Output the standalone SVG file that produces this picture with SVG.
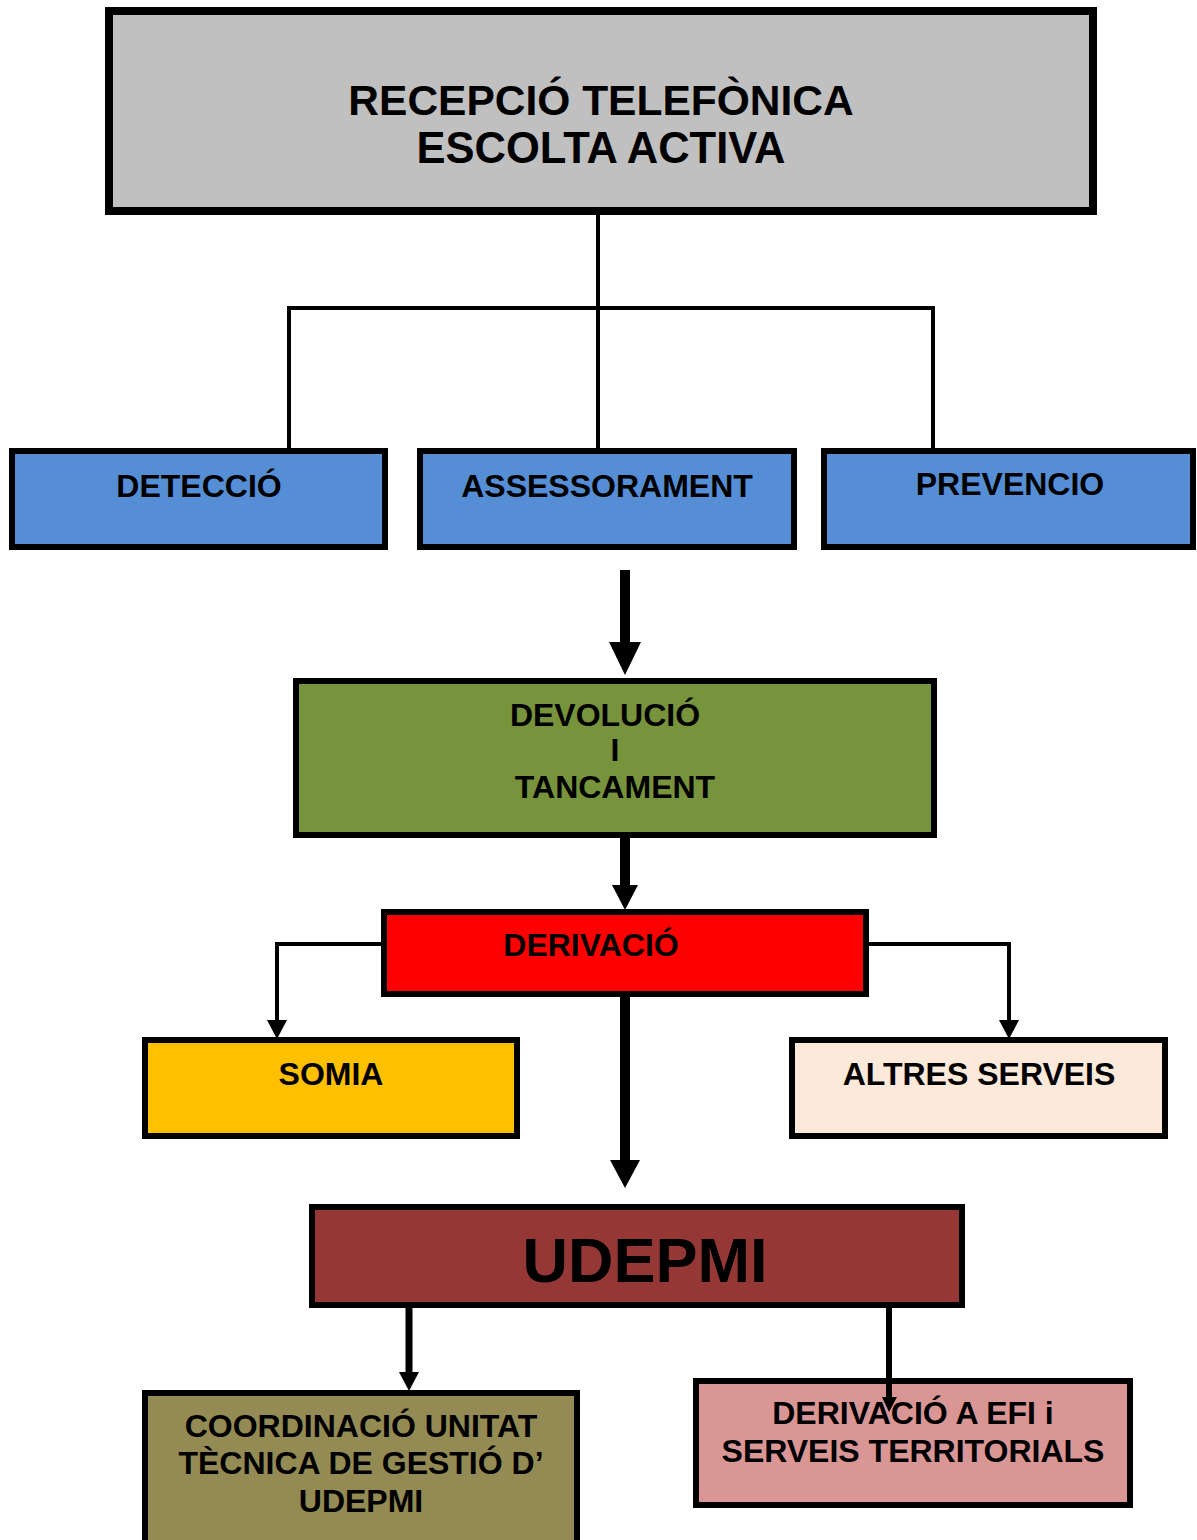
<svg xmlns="http://www.w3.org/2000/svg" width="1197" height="1540" viewBox="0 0 1197 1540">
<style>
.box{stroke:#000;stroke-width:6}
.t{font-family:"Liberation Sans",Arial,sans-serif;font-weight:bold;font-size:32px;text-anchor:middle;fill:#000}
.ln{fill:none;stroke:#000;stroke-width:4}
.thick{fill:none;stroke:#000;stroke-width:10}
.hd{fill:#000}
</style>
<rect width="1197" height="1540" fill="#fff"/>
<g id="recepcio">
<rect x="109" y="11" width="984" height="200" fill="#C0C0C0" stroke="#000" stroke-width="8"/>
<text class="t" x="601" y="115" style="font-size:42.5px">RECEPCIÓ TELEFÒNICA</text>
<text class="t" x="601" y="163" style="font-size:43.5px">ESCOLTA ACTIVA</text>
</g>
<g id="deteccio">
<rect class="box" x="12" y="451" width="373" height="96" fill="#558ED5"/>
<text class="t" x="199" y="497">DETECCIÓ</text>
</g>
<g id="assessorament">
<rect class="box" x="420" y="451" width="374" height="96" fill="#558ED5"/>
<text class="t" x="607" y="497">ASSESSORAMENT</text>
</g>
<g id="prevencio">
<rect class="box" x="824" y="451" width="369" height="96" fill="#558ED5"/>
<text class="t" x="1010" y="495">PREVENCIO</text>
</g>
<g id="devolucio">
<rect class="box" x="296" y="681" width="638" height="154" fill="#77933C"/>
<text class="t" x="605" y="726">DEVOLUCIÓ</text>
<text class="t" x="615" y="761">I</text>
<text class="t" x="615" y="798">TANCAMENT</text>
</g>
<g id="derivacio">
<rect class="box" x="384" y="912" width="482" height="82" fill="#FF0000"/>
<text class="t" x="591" y="956">DERIVACIÓ</text>
</g>
<g id="somia">
<rect class="box" x="145" y="1040" width="372" height="96" fill="#FFC000"/>
<text class="t" x="331" y="1085">SOMIA</text>
</g>
<g id="altres">
<rect class="box" x="792" y="1040" width="373" height="96" fill="#FDE9D9"/>
<text class="t" x="979" y="1085">ALTRES SERVEIS</text>
</g>
<g id="udepmi">
<rect class="box" x="312" y="1207" width="650" height="98" fill="#953735"/>
<text class="t" x="645" y="1282" style="font-size:63px">UDEPMI</text>
</g>
<g id="coordinacio">
<rect class="box" x="145" y="1393" width="432" height="170" fill="#948A54"/>
<text class="t" x="361" y="1437">COORDINACIÓ UNITAT</text>
<text class="t" x="361" y="1474">TÈCNICA DE GESTIÓ D’</text>
<text class="t" x="361" y="1512">UDEPMI</text>
</g>
<g id="derivacio-efi">
<rect class="box" x="696" y="1381" width="434" height="124" fill="#D99694"/>
<text class="t" x="913" y="1424">DERIVACIÓ A EFI i</text>
<text class="t" x="913" y="1462">SERVEIS TERRITORIALS</text>
</g>
<g id="connectors">
<path class="ln" d="M598 215V451M289 308H933M289 306V451M933 306V451"/>
<path class="thick" d="M625 570V645"/>
<polygon class="hd" points="609,642 641,642 625,675"/>
<path class="thick" d="M625 838V888"/>
<polygon class="hd" points="612,885 638,885 625,910"/>
<path class="ln" d="M384 944H277V1022"/>
<polygon class="hd" points="267,1020 287,1020 277,1039"/>
<path class="ln" d="M866 944H1009V1022"/>
<polygon class="hd" points="999,1020 1019,1020 1009,1039"/>
<path class="thick" d="M625 997V1162"/>
<polygon class="hd" points="610,1160 640,1160 625,1188"/>
<path class="ln" style="stroke-width:7" d="M409 1308V1374"/>
<polygon class="hd" points="399,1372 419,1372 409,1391"/>
<path class="ln" style="stroke-width:6" d="M889 1308V1400"/>
<polygon class="hd" points="882,1397 897,1397 889,1412"/>
</g>
</svg>
